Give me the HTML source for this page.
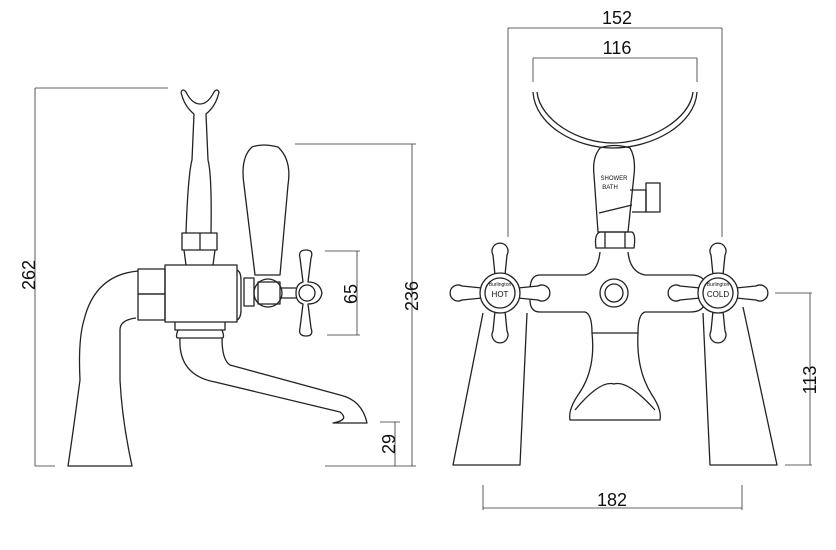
<!DOCTYPE html>
<html><head><style>html,body{margin:0;padding:0;background:#fff}svg{display:block}</style></head>
<body>
<svg width="836" height="550" viewBox="0 0 836 550" xmlns="http://www.w3.org/2000/svg">
<g fill="none" stroke="#333" stroke-width="0.8">
<path d="M35 88V466M35 88H168M35 466H55"/>
<path d="M412 144V466M295 144H416M325 466H416"/>
<path d="M357 251V335M325 251H360M327 335H360"/>
<path d="M395 422V466M380 422H400"/>
<path d="M508 28H722M508 28V237M722 28V237"/>
<path d="M533 58H697M533 58V82M697 58V82"/>
<path d="M810 293V465M775 293H812M785 465H812"/>
<path d="M483 508H742M483 485V510M742 485V510"/>
</g>
<g font-family="Liberation Sans, sans-serif" font-size="18" fill="#111" text-anchor="middle">
<text transform="translate(35,275) rotate(-90)">262</text>
<text transform="translate(418,296) rotate(-90)">236</text>
<text transform="translate(357,294) rotate(-90)">65</text>
<text transform="translate(395,444) rotate(-90)">29</text>
<text x="617" y="24">152</text>
<text x="617" y="54">116</text>
<text transform="translate(816,380) rotate(-90)">113</text>
<text x="612" y="506">182</text>
</g>
<g fill="none" stroke="#222" stroke-width="1.3" stroke-linejoin="round">
<!-- LEFT VIEW -->
<path d="M181 92 Q183 88 186 92 Q192 104 200 104 Q208 104 214 92 Q217 88 219 92 Q216 106 206 114 L208 160 Q212 175 211 233 M194 114 Q184 106 181 92 M194 114 L192 160 Q188 175 186 233"/>
<rect x="182" y="233" width="35" height="17"/>
<line x1="200" y1="233" x2="200" y2="250"/>
<path d="M184 250 L186 265 M215 250 L213 265"/>
<rect x="165" y="265" width="72" height="57"/>
<path d="M237 270 Q241 272 241 280 V310 Q241 318 237 320"/>
<rect x="138" y="269" width="27" height="25"/><rect x="138" y="294" width="27" height="26"/>
<path d="M138 271 Q95 275 84 320 Q78 340 80 380 Q72 440 68 466 H132 Q122 420 120 380 V330 Q120 320 136 318"/>
<path d="M175 322 V330 H225 V322 M178 330 Q175 338 178 338 H222 Q225 338 222 330"/>
<path d="M180 338 Q178 375 215 382 L340 412 Q350 420 333 423 H367 Q362 400 340 395 L230 365 Q222 360 222 338"/>
<path d="M252 147 Q262 143 278 147 Q292 160 288 185 L280 275 H255 L244 185 Q240 158 252 147Z"/>
<rect x="244" y="278" width="10" height="28"/>
<circle cx="268" cy="293" r="14"/><rect x="258" y="282" width="22" height="22"/>
<path d="M280 288 H296 M280 298 H296"/>
<path d="M300 258 Q298 250 306 250 Q314 250 311 258 L308 282 Q320 282 322 293 Q320 304 308 304 L311 328 Q314 336 306 336 Q298 336 300 328 L303 304 Q296 302 296 293 Q296 284 303 282 Z"/>
<circle cx="307" cy="293" r="8"/>
<!-- RIGHT VIEW -->
<path d="M533 92 C535 125 575 148 613 148 C652 148 695 125 697 92 M537 92 C540 120 578 143 613 143 C648 143 690 120 693 92"/>
<path d="M600 148 Q614 143 630 148 Q636 158 634 175 L628 232 H598 L594 175 Q592 158 600 148Z"/>
<path d="M599 213 L632 205 M630 190 H646 V212 H632"/>
<rect x="646" y="183" width="14" height="29"/>
<path d="M600 232 H632 Q636 234 634 248 H596 Q594 234 600 232Z M605 232 V248 M625 232 V248"/>
<path d="M600 252 Q598 272 585 275 H540 Q530 275 530 290 V300 Q530 312 540 312 H585 Q592 314 592 333 H638 Q638 314 645 312 H690 Q705 312 705 300 V285 Q705 275 690 275 H645 Q630 272 628 252"/>
<circle cx="614" cy="293" r="14"/><circle cx="614" cy="293" r="9"/>
<path d="M592 333 Q596 370 578 395 Q568 410 570 420 H660 Q662 410 652 395 Q636 370 638 333"/>
<path d="M575 410 Q600 380 614 384 Q628 380 655 410"/>
<path d="M483 313 L453 465 H520 L527 313 M703 313 L710 465 H777 L743 307"/>
</g>
<g fill="#fff" stroke="#222" stroke-width="1.3">
<g transform="translate(500,293)">
<path d="M-5 -18 L-7 -38 A8 8 0 1 1 7 -38 L5 -18 L18 -5 L38 -7 A8 8 0 1 1 38 7 L18 5 L5 18 L7 38 A8 8 0 1 1 -7 38 L-5 18 L-18 5 L-38 7 A8 8 0 1 1 -38 -7 L-18 -5Z"/>
<circle r="20"/><circle r="15"/>
</g>
<g transform="translate(718,293)">
<path d="M-5 -18 L-7 -38 A8 8 0 1 1 7 -38 L5 -18 L18 -5 L38 -7 A8 8 0 1 1 38 7 L18 5 L5 18 L7 38 A8 8 0 1 1 -7 38 L-5 18 L-18 5 L-38 7 A8 8 0 1 1 -38 -7 L-18 -5Z"/>
<circle r="20"/><circle r="15"/>
</g>
</g>
<g font-family="Liberation Sans, sans-serif" fill="#111" text-anchor="middle">
<text x="500" y="297" font-size="8">HOT</text>
<text x="718" y="297" font-size="8">COLD</text>
<text x="500" y="286" font-size="5">Burlington</text>
<text x="718" y="286" font-size="5">Burlington</text>
<text x="614" y="180" font-size="6">SHOWER</text>
<text x="610" y="189" font-size="6">BATH</text>
</g>
</svg>
</body></html>
